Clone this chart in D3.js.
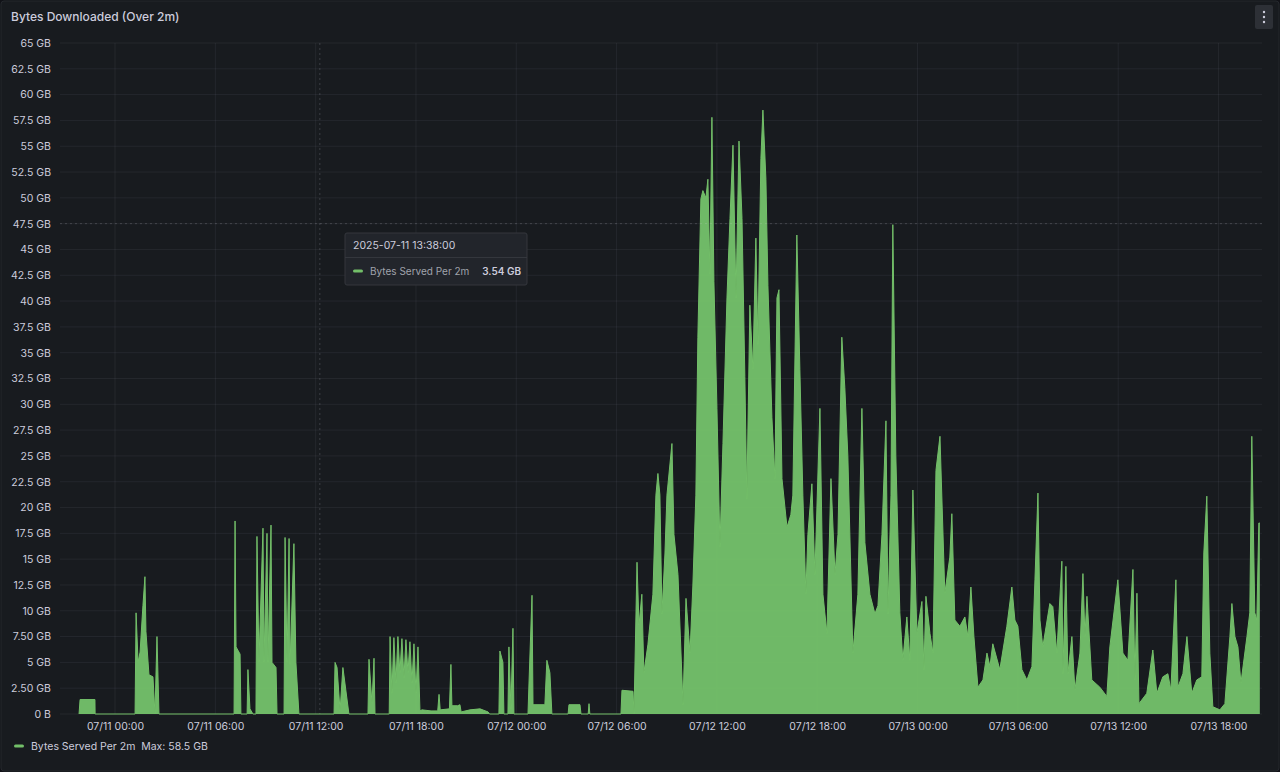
<!DOCTYPE html>
<html><head><meta charset="utf-8">
<script src="https://cdn.jsdelivr.net/npm/d3@7/dist/d3.min.js"></script>
<style>
html,body{margin:0;padding:0;background:#111217;}
svg{display:block;font-family:Inter,"Open Sans",sans-serif;}
</style></head><body>
<svg id="c" width="1280" height="772"></svg>
<script>
// hours since 2025-07-11 00:00 and GB served per 2m
const hours = [
-2.15,-2.09,-1.20,-1.19,
1.20,1.26,1.38,1.50,1.67,1.79,1.85,2.03,2.27,2.39,2.51,2.63,
7.12,7.18,7.24,7.48,7.53,7.90,7.95,8.07,8.25,8.43,8.49,8.61,8.85,8.91,9.09,9.15,9.33,9.39,9.63,9.69,10.11,10.17,10.29,10.41,10.47,10.70,10.82,11.00,
13.10,13.16,13.28,13.46,13.63,13.99,
15.13,15.19,15.37,15.49,15.55,
16.40,16.45,16.56,16.68,16.80,16.92,17.04,17.16,17.28,17.40,17.52,17.64,17.76,17.88,18.00,18.12,18.24,
18.36,18.90,19.30,19.38,19.45,20.00,20.09,20.15,20.50,20.63,20.70,21.23,21.83,22.31,22.40,
22.96,23.02,23.20,23.26,23.50,23.56,23.68,23.80,23.86,
24.70,24.76,24.94,25.00,25.71,25.83,26.01,26.13,
27.10,27.15,27.81,27.87,
28.30,28.35,28.40,
30.26,30.32,30.98,31.04,
31.22,31.34,31.51,31.63,31.87,32.17,32.35,32.47,32.59,32.71,32.89,33.01,33.31,33.43,33.67,33.97,34.15,34.39,34.56,34.74,34.86,
35.04,35.16,35.34,35.46,35.58,35.70,35.82,36.00,36.18,36.36,36.60,36.78,36.96,37.14,37.32,37.50,37.67,37.79,37.97,
38.15,38.33,38.45,38.63,38.75,38.93,39.05,39.29,39.47,39.59,39.71,39.89,40.19,40.42,40.54,40.78,40.96,
41.14,41.32,41.44,41.68,41.86,42.16,42.34,42.58,42.82,43.06,43.24,43.47,43.65,43.83,44.13,44.43,44.67,44.85,
45.15,45.45,45.63,45.87,46.11,46.23,46.41,46.52,46.70,46.94,47.12,47.36,47.54,47.72,47.96,48.26,48.38,48.50,48.74,48.92,
49.10,49.34,49.63,49.93,50.05,50.23,50.53,50.83,51.01,51.19,51.37,51.61,51.91,52.15,52.33,52.50,52.92,53.34,53.64,53.82,
54.00,54.24,54.54,54.84,55.02,55.20,55.32,55.49,55.91,56.09,56.33,56.63,56.69,56.87,56.99,57.23,57.41,57.71,57.89,58.01,58.13,58.42,58.90,
59.32,59.50,59.98,60.28,60.58,60.88,61.00,61.12,61.24,61.71,62.07,62.31,62.67,62.97,63.15,63.45,63.57,63.87,64.11,64.40,64.70,
65.00,65.12,65.30,65.48,65.66,66.08,66.38,66.68,66.80,66.98,67.16,67.34,67.70,67.87,67.99,68.17,68.29,68.41,68.47
];
const gb = [
0,1.4,1.4,0,
0,9.8,5,6,10.5,13.3,8,3.8,3.6,0,7.5,0,
0,18.7,6.5,5.8,0,0,4.3,0.5,0,0,17.2,5,18,5,17.5,5,18.3,5,4.5,0,0,17.1,5,17,4.8,16.5,5,0,
0,5,4.5,0.3,4.5,0,
0,5.3,1,5.4,0,
0,7.5,2,7.4,3,7.5,4,7.3,3.5,7.2,4,7,3,6.8,2,6.5,0.3,
0.4,0.3,0.3,1.9,0.4,0.5,4.8,0.8,0.8,0.9,0.2,0.4,0.5,0.2,0,
0,6.1,5,0,0,6.5,0.5,8.3,0,
0,3,11.5,0.9,0.9,5.2,4,0,
0,0.9,0.9,0,
0,1.0,0,
0,2.3,2.2,0,
14.7,8.6,11.6,4,6.7,11.6,21.2,23.3,21.2,9.7,15.5,21.2,26.2,17.4,13.5,0.9,11.2,5.9,12.4,21.2,36.5,
49.9,50.7,50,51.8,42.6,57.8,41.9,29.6,16.2,26.2,40.3,48,55.1,40.3,55.5,48,32.7,20.8,39.6,
33.4,46.1,35.8,53.8,58.5,51.8,41.5,28.7,22.8,40.3,41.1,22.8,18.1,19.3,21.2,46.4,33.4,
21.2,11.6,17.4,22.3,13.5,29.6,11.6,7.8,22.8,13.5,17.4,36.5,31.6,25,5.9,11.6,29.6,16.6,
11.6,9.7,10.5,17.4,28.4,9.7,21.2,47.4,25,9.8,5.2,9.4,5.2,21.7,7.8,10.9,4.3,11.4,7.8,5.9,
23.6,26.9,11.7,15.2,19.4,9.1,8.5,9.4,7.5,12.3,7.5,2.6,3.3,5.9,4.6,6.8,4.3,8.5,12.3,9.1,
8.5,4.3,3.3,4.6,13,21.4,9.1,6.5,10.7,10.4,5.9,14.8,3.9,14.3,3.9,7.5,2.3,5.9,13.6,7.5,11.4,3.3,2.6,
1.7,6.5,13,5.9,5.2,14,3.3,11.7,1,2,6.2,2,3.6,3.9,2.3,13,2.6,3.9,7.5,2,3.3,
3.6,15.6,21.1,5.9,0.7,0.4,1,7.5,10.7,7.5,6.5,3,7.5,9.8,26.9,9.8,9.1,18.5,18.5
];
const yTickValues = [0,2.5,5,7.5,10,12.5,15,17.5,20,22.5,25,27.5,30,32.5,35,37.5,40,42.5,45,47.5,50,52.5,55,57.5,60,62.5,65];
const yTickLabels = ["0 B","2.50 GB","5 GB","7.50 GB","10 GB","12.5 GB","15 GB","17.5 GB","20 GB","22.5 GB","25 GB","27.5 GB","30 GB","32.5 GB","35 GB","37.5 GB","40 GB","42.5 GB","45 GB","47.5 GB","50 GB","52.5 GB","55 GB","57.5 GB","60 GB","62.5 GB","65 GB"];
const xTickHours = [0,6,12,18,24,30,36,42,48,54,60,66];
const seriesName = "Bytes Served Per 2m";
const title = "Bytes Downloaded (Over 2m)";
const tooltipTime = "2025-07-11 13:38:00";
const tooltipValue = "3.54 GB";
const hoverHour = 12 + 15/60, hoverGB = 47.5;

const base = new Date(2025,6,11,0,0,0);
const toDate = h => new Date(base.getTime() + h*3600e3);
const data = hours.map((h,i)=>({t:toDate(h), v:gb[i]}));

const svg = d3.select("#c");
const W=1280,H=772;
svg.append("rect").attr("x",1).attr("y",1).attr("width",W-2).attr("height",H-2).attr("rx",3)
  .attr("fill","#181b1f").attr("stroke","#25282d");

svg.append("text").attr("x",11).attr("y",21).attr("fill","#ccccdc").attr("font-size",12).attr("font-weight",500).text(title);
svg.append("rect").attr("x",1255).attr("y",5).attr("width",18).attr("height",24).attr("rx",2).attr("fill","#2d3036");
[12,17,22].forEach(y=>svg.append("circle").attr("cx",1264).attr("cy",y).attr("r",1.2).attr("fill","#ccccdc"));

const x = d3.scaleTime().domain([toDate(-3.29), toDate(68.6)]).range([60,1262]);
const y = d3.scaleLinear().domain([0,65]).range([714,43]);

const grid = svg.append("g");
yTickValues.forEach(v=>grid.append("line").attr("x1",60).attr("x2",1262).attr("y1",y(v)).attr("y2",y(v)).attr("stroke","rgba(204,204,220,0.07)"));
xTickHours.forEach(h=>grid.append("line").attr("x1",x(toDate(h))).attr("x2",x(toDate(h))).attr("y1",43).attr("y2",714).attr("stroke","rgba(204,204,220,0.07)"));

const area = d3.area().x(d=>x(d.t)).y0(y(0)).y1(d=>y(d.v));
svg.append("path").datum(data).attr("d",area).attr("fill","#73bf69").attr("fill-opacity",0.97);
svg.append("path").datum(data).attr("d",d3.line().x(d=>x(d.t)).y(d=>y(d.v))).attr("fill","none").attr("stroke","#73bf69").attr("stroke-width",1);

const yAxis = svg.append("g").attr("transform","translate(56,0)")
  .call(d3.axisLeft(y).tickValues(yTickValues).tickFormat((d,i)=>yTickLabels[i]).tickSize(0).tickPadding(5));
yAxis.select(".domain").remove();
yAxis.selectAll("text").attr("fill","#ccccdc").attr("font-size",10.5).attr("font-family","Inter,sans-serif");

const xAxis = svg.append("g").attr("transform","translate(0,715)")
  .call(d3.axisBottom(x).tickValues(xTickHours.map(toDate)).tickFormat(d3.timeFormat("%m/%d %H:%M")).tickSize(0).tickPadding(8));
xAxis.select(".domain").remove();
xAxis.selectAll("text").attr("fill","#ccccdc").attr("font-size",10.5).attr("font-family","Inter,sans-serif");

svg.append("line").attr("x1",x(toDate(hoverHour))).attr("x2",x(toDate(hoverHour))).attr("y1",43).attr("y2",714)
  .attr("stroke","rgba(204,204,220,0.2)").attr("stroke-dasharray","2,3");
svg.append("line").attr("x1",60).attr("x2",1262).attr("y1",y(hoverGB)).attr("y2",y(hoverGB))
  .attr("stroke","rgba(204,204,220,0.2)").attr("stroke-dasharray","2,3");

const tt = svg.append("g").attr("transform","translate(345,233)");
tt.append("rect").attr("width",182).attr("height",52).attr("rx",2).attr("fill","#22252b").attr("stroke","#34373d");
tt.append("text").attr("x",8).attr("y",16).attr("fill","#ccccdc").attr("font-size",10.5).text(tooltipTime);
tt.append("line").attr("x1",0).attr("x2",182).attr("y1",24.5).attr("y2",24.5).attr("stroke","#34373d");
tt.append("rect").attr("x",8).attr("y",36.5).attr("width",10).attr("height",3).attr("rx",1.5).attr("fill","#73bf69");
tt.append("text").attr("x",25).attr("y",42).attr("fill","#a0a3ab").attr("font-size",10).text(seriesName);
tt.append("text").attr("x",176).attr("y",42).attr("text-anchor","end").attr("fill","#ccccdc").attr("font-size",10).attr("font-weight",600).text(tooltipValue);

svg.append("rect").attr("x",14).attr("y",744.5).attr("width",10).attr("height",3).attr("rx",1.5).attr("fill","#73bf69");
svg.append("text").attr("x",31).attr("y",750).attr("fill","#ccccdc").attr("font-size",10.5)
  .text(seriesName + "  Max: " + d3.max(gb) + " GB").attr("xml:space","preserve");
</script></body></html>
